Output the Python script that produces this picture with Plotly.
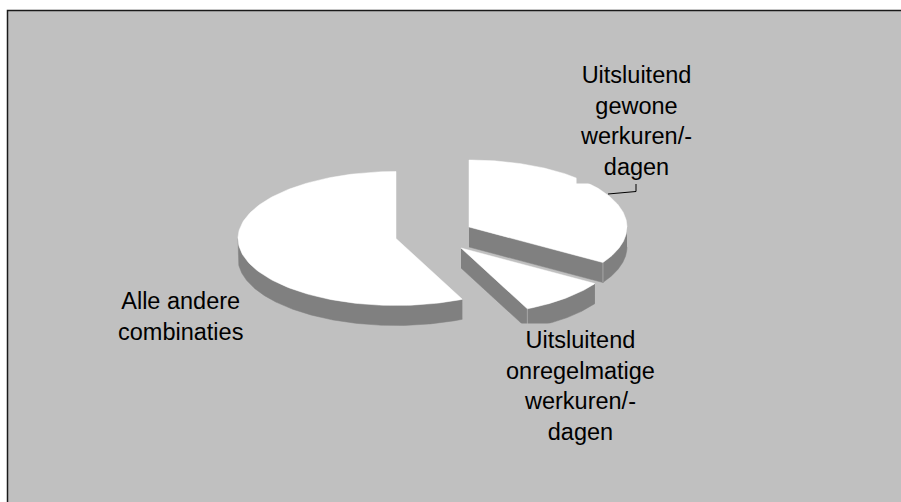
import numpy as np
import plotly.graph_objects as go

# Data
categories = ["Uitsluitend gewone werkuren/-dagen", "Uitsluitend onregelmatige werkuren/-dagen", "Alle andere combinaties"]
shares = [33.9, 9.2, 56.9]
label_texts = [
    "Uitsluitend<br>gewone<br>werkuren/-<br>dagen",
    "Uitsluitend<br>onregelmatige<br>werkuren/-<br>dagen",
    "Alle andere<br>combinaties",
]

# Drawing geometry (pixels of the 901x502 canvas)
W, H = 901, 502
centres = [(469, 227), (461, 248), (396, 238.5)]
RX, RY, DEPTH = 158, 67, 20
TOP_C, WALL_C, EDGE_C, BG_C = "#FFFFFF", "#808080", "#A6A6A6", "#C0C0C0"
label_pos = [(636, 57.5), (580, 323), (180, 284)]

starts = np.concatenate([[0], np.cumsum(shares)[:-1]]) / sum(shares) * 2 * np.pi
ends = np.cumsum(shares) / sum(shares) * 2 * np.pi


def rim(c, a, b, dy=0.0):
    t = np.linspace(a, b, 160)
    return c[0] + RX * np.sin(t), c[1] - RY * np.cos(t) + dy


def poly(x, y, colour):
    return go.Scatter(x=x, y=y, mode="lines", fill="toself", fillcolor=colour,
                      line=dict(width=0.5, color=colour), hoverinfo="skip", showlegend=False)


fig = go.Figure()
for i in (2, 0, 1):
    c, a, b = centres[i], starts[i], ends[i]
    # visible outer wall: the front half of the rim
    lo, hi = max(a, np.pi / 2), min(b, 3 * np.pi / 2)
    if hi > lo:
        x, y = rim(c, lo, hi)
        fig.add_trace(poly(np.r_[x, x[::-1]], np.r_[y, (y + DEPTH)[::-1]], WALL_C))
    # visible cut face: the radial side that looks toward the viewer
    if i in (0, 1):
        ex, ey = rim(c, b, b)
        ex, ey = ex[0], ey[0]
        fig.add_trace(poly([c[0], ex, ex, c[0]], [c[1], ey, ey + DEPTH, c[1] + DEPTH], WALL_C))
        fig.add_trace(go.Scatter(x=[ex, ex], y=[ey, ey + DEPTH], mode="lines",
                                 line=dict(width=1, color=EDGE_C), hoverinfo="skip", showlegend=False))
    # top face
    x, y = rim(c, a, b)
    fig.add_trace(poly(np.r_[c[0], x, c[0]], np.r_[c[1], y, c[1]], TOP_C))

annotations = [
    dict(x=px, y=py, text=t, xref="x", yref="y", xanchor="center", yanchor="top", showarrow=False,
         align="center", bgcolor=BG_C, borderpad=3,
         font=dict(family="Liberation Sans, Arial, sans-serif", size=23.5, color="#000000"))
    for (px, py), t in zip(label_pos, label_texts)
]

fig.update_layout(
    width=W, height=H, autosize=False, margin=dict(l=0, r=0, t=0, b=0),
    paper_bgcolor="#FFFFFF", plot_bgcolor="#FFFFFF",
    xaxis=dict(range=[0, W], visible=False, fixedrange=True),
    yaxis=dict(range=[H, 0], visible=False, fixedrange=True),
    annotations=annotations,
    shapes=[
        dict(type="rect", layer="below", xref="x", yref="y", x0=7.5, y0=10.5, x1=W + 5, y1=H + 5,
             fillcolor=BG_C, line=dict(color="#1A1A1A", width=1.5)),
        dict(type="path", layer="above", xref="x", yref="y", path="M 608 194 L 636 191.5 L 636 184",
             line=dict(color="#000000", width=1)),
    ],
)
fig.write_html("out.html", config=dict(displayModeBar=False),
               post_script="document.body.style.margin='0';document.body.style.overflow='hidden';")
